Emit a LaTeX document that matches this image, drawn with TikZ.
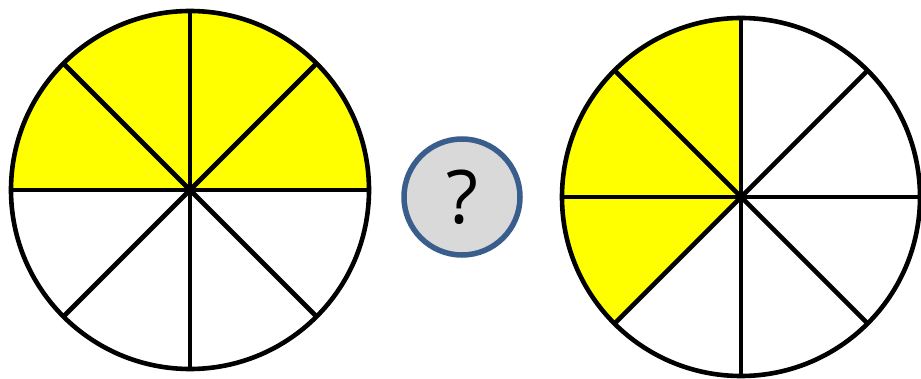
\documentclass[tikz,border=0pt]{standalone}
\usepackage{fontspec}
\setmainfont{Open Sans}
\definecolor{pieyellow}{HTML}{FFFF00}
\definecolor{askline}{HTML}{3A5E8C}
\definecolor{askfill}{HTML}{D9D9D9}
\begin{document}
\begin{tikzpicture}[x=1pt,y=1pt,line width=4.6pt]
\useasboundingbox (0,0) rectangle (921,378);
\coordinate (left) at (190,188);
\coordinate (right) at (741,181);
% shaded parts
\fill[pieyellow] (left) -- ++(0:179) arc (0:180:179) -- cycle;
\fill[pieyellow] (right) -- ++(90:179) arc (90:225:179) -- cycle;
% the two pies
\foreach \c in {left,right} {
  \draw (\c) circle (179);
  \foreach \a in {0,45,...,315}
    \draw (\c) -- ++(\a:179);
}
\node[circle,draw=askline,fill=askfill,line width=5.5pt,minimum size=116pt,inner sep=0pt,
  font=\fontsize{74}{74}\selectfont] (ask) at (462,181) {?};
\end{tikzpicture}
\end{document}
